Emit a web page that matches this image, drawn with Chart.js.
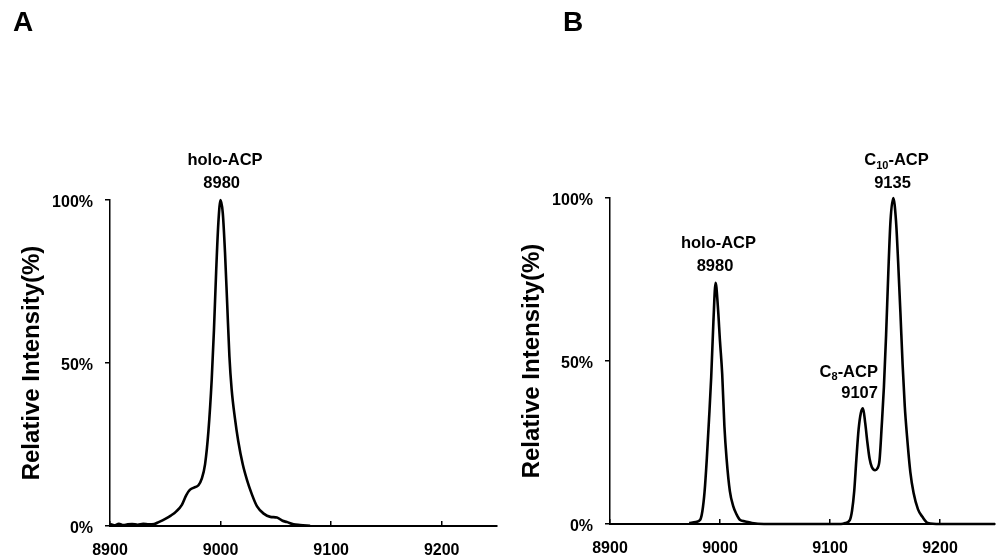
<!DOCTYPE html>
<html>
<head>
<meta charset="utf-8">
<script src="https://cdn.jsdelivr.net/npm/chart.js@4.4.1/dist/chart.umd.min.js"></script>
<style>
  body { margin: 0; background: #fff; }
  canvas { position: absolute; top: 0; }
</style>
</head>
<body>
<canvas id="chartA" width="500" height="559" style="left:0"></canvas>
<canvas id="chartB" width="505" height="559" style="left:500px"></canvas>
<script>
/* global Chart */
const FONT = "Arial, 'Liberation Sans', Helvetica, sans-serif";

// Panel A: holo-ACP only (mass, relative intensity %)
const massA = [8900, 8904, 8908, 8912, 8916, 8920, 8925, 8930, 8935, 8940, 8944, 8950,
  8955, 8960, 8965, 8969, 8972, 8976, 8980, 8983, 8986, 8989, 8992, 8994, 8996, 8998,
  9000, 9002, 9004, 9006, 9008, 9010, 9013, 9016, 9020, 9024, 9028, 9033, 9039, 9045,
  9051, 9056, 9060, 9066, 9072, 9081];
const intensityA = [0.6, 0.2, 0.7, 0.3, 0.5, 0.6, 0.4, 0.7, 0.5, 0.6, 1.2, 2.2,
  3.2, 4.5, 6.5, 9.5, 11, 11.8, 12.5, 14.5, 19, 29, 45, 60, 78, 93,
  100, 96, 84, 68, 52, 42, 33, 26, 19, 14, 10, 6, 3.8, 2.8,
  2.6, 1.6, 1.2, 0.5, 0.3, 0.1];

// Panel B: holo-ACP, C8-ACP and C10-ACP
const massB = [8972, 8978, 8982, 8984, 8986, 8988, 8990, 8992, 8994, 8996, 8998, 9000,
  9002, 9004, 9006, 9009, 9012, 9015, 9018, 9023, 9029, 9040, 9060, 9080, 9100, 9110,
  9114, 9118, 9120, 9122, 9124, 9126, 9128, 9130, 9132, 9134, 9136, 9138, 9141, 9143,
  9145, 9147, 9149, 9151, 9153, 9155, 9157.5, 9160, 9162, 9164, 9166, 9168, 9170, 9173,
  9176, 9180, 9184, 9189, 9200, 9250];
const intensityB = [0.3, 0.6, 1.3, 4, 10, 20, 32, 45, 62, 74, 67, 56,
  46, 30, 20, 10, 5.5, 3, 1.3, 0.8, 0.3, 0, 0, 0, 0, 0,
  0.3, 1.2, 4, 10, 20, 29, 34, 35.5, 31, 25, 20, 17.5, 16.5, 17,
  19.5, 30, 42, 58, 77, 93, 100, 93, 80, 65, 49, 36, 27, 16,
  9.5, 4.5, 2.2, 0.3, 0, 0];

// axis ranges / ticks
const massRange = [8900, 9250];
const massStep = 100;
const intensityRange = [0, 100];
const intensityStep = 50;
const yTitle = "Relative Intensity(%)";

// peak annotations, anchored in data units; _{..} marks a subscript
const peaksA = [
  { text: "holo-ACP", x: 9004, y: 112, align: "center" },
  { text: "8980", x: 9001, y: 105.2, align: "center" },
];
const peaksB = [
  { text: "holo-ACP", x: 8998.6, y: 86, align: "center" },
  { text: "8980", x: 8995.5, y: 78.9, align: "center" },
  { text: "C_{8}-ACP", x: 9143.6, y: 46.6, align: "right" },
  { text: "9107", x: 9143.6, y: 39.9, align: "right" },
  { text: "C_{10}-ACP", x: 9160.5, y: 111.5, align: "center" },
  { text: "9135", x: 9156.8, y: 104.4, align: "center" },
];

const peakLabels = {
  id: "peakLabels",
  afterDraw(chart, args, opts) {
    const ctx = chart.ctx;
    const xs = chart.scales.x;
    const ys = chart.scales.y;
    const mainFont = `bold 16.5px ${FONT}`;
    const subFont = `bold 11px ${FONT}`;
    ctx.save();
    ctx.fillStyle = "#000";
    ctx.textAlign = "left";
    ctx.textBaseline = "middle";
    opts.items.forEach((item) => {
      const parts = item.text.split(/_\{|\}/);
      let width = 0;
      parts.forEach((p, i) => {
        ctx.font = i % 2 ? subFont : mainFont;
        width += ctx.measureText(p).width;
      });
      let px = xs.getPixelForValue(item.x);
      const py = ys.getPixelForValue(item.y);
      px -= item.align == "right" ? width : width / 2;
      parts.forEach((p, i) => {
        ctx.font = i % 2 ? subFont : mainFont;
        ctx.fillText(p, px, i % 2 ? py + 5 : py);
        px += ctx.measureText(p).width;
      });
    });
    // panel letter
    ctx.font = `bold 28px ${FONT}`;
    ctx.textBaseline = "alphabetic";
    ctx.fillText(opts.letter, opts.letterX, 31);
    ctx.restore();
  },
};

function makeChart(id, mass, intensity, peaks, letter, box) {
  const tickFont = { size: 16, weight: "bold", family: FONT };
  return new Chart(document.getElementById(id), {
    type: "line",
    data: {
      datasets: [
        {
          data: mass.map((m, i) => ({ x: m, y: intensity[i] })),
          borderColor: "#000",
          borderWidth: 2.6,
          pointRadius: 0,
          cubicInterpolationMode: "monotone",
          clip: 6,
        },
      ],
    },
    options: {
      responsive: false,
      animation: false,
      layout: {
        padding: { top: box.top, right: box.right, left: 0, bottom: 0 },
      },
      scales: {
        x: {
          type: "linear",
          min: massRange[0],
          max: massRange[1],
          afterFit: (s) => { s.height = box.xAxis; },
          border: { color: "#000", width: 2 },
          grid: { drawOnChartArea: false, tickLength: -5, color: "#000", lineWidth: 1.5 },
          ticks: {
            stepSize: massStep,
            includeBounds: false,
            maxRotation: 0,
            callback: (v) => String(v),
            color: "#000",
            font: tickFont,
            padding: 20,
          },
        },
        y: {
          min: intensityRange[0],
          max: intensityRange[1],
          afterFit: (s) => { s.width = 110; },
          border: { color: "#000", width: 1.5 },
          grid: { drawOnChartArea: false, tickLength: 5, color: "#000", lineWidth: 1.5 },
          ticks: {
            stepSize: intensityStep,
            callback: (v) => v + "%",
            color: "#000",
            font: tickFont,
            padding: 12,
            labelOffset: 3,
          },
          title: {
            display: true,
            text: yTitle,
            color: "#000",
            font: { size: 24, weight: "bold", family: FONT },
            padding: { top: 17.6, bottom: 0 },
          },
        },
      },
      plugins: {
        legend: { display: false },
        tooltip: { enabled: false },
        peakLabels: { items: peaks, letter: letter, letterX: box.letterX },
      },
    },
    plugins: [peakLabels],
  });
}

makeChart("chartA", massA, intensityA, peaksA, "A", { top: 200, right: 3, xAxis: 33, letterX: 13 });
makeChart("chartB", massB, intensityB, peaksB, "B", { top: 198, right: 10, xAxis: 35, letterX: 63 });
</script>
</body>
</html>
